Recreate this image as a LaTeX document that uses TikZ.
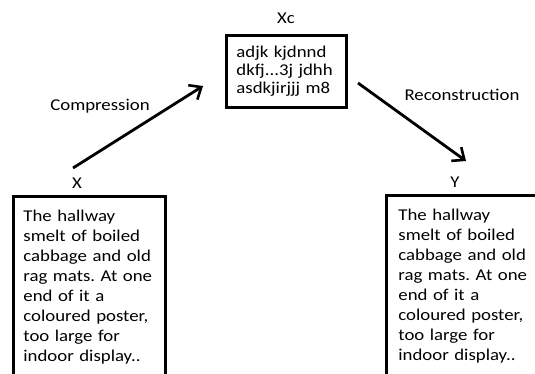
\documentclass[tikz,border=0pt]{standalone}
\usepackage{fontspec}
\setmainfont{Carlito}[FakeStretch=1.14]
\usetikzlibrary{arrows.meta}
\frenchspacing

\tikzset{
  textbox/.style={draw, line width=2.8pt, anchor=north west, align=left,
    inner xsep=10pt, inner ysep=14pt, font=\fontsize{16.5}{20}\selectfont},
  lbl/.style={font=\fontsize{16.5}{18}\selectfont},
  arr/.style={line width=2.8pt, -{Straight Barb[length=10pt,width=17pt,line width=2.6pt]}}
}

\begin{document}
\begin{tikzpicture}[x=1pt,y=-1pt]
\useasboundingbox (0,0) rectangle (535,373);
% the compressed text in the middle
\node[textbox, font=\fontsize{16.5}{18}\selectfont, inner ysep=11pt, text width=100pt] (xcbox) at (225,34)
  {adjk kjdnnd\\dkfj...3j jdhh\\asdkjirjjj m8};
\node[lbl] (xclab) at (286,18) {Xc};
% input and output
\node[textbox, text width=132pt] (xbox) at (12,195)
  {The hallway\\smelt of boiled\\cabbage and old\\rag mats. At one\\end of it a\\coloured poster,\\too large for\\indoor display..};
\node[lbl] (xlab) at (77,183) {X};
\node[textbox, inner xsep=12pt, text width=150pt] (ybox) at (385,194)
  {The hallway\\smelt of boiled\\cabbage and old\\rag mats. At one\\end of it a\\coloured poster,\\too large for\\indoor display..};
\node[lbl] (ylab) at (455,182) {Y};
% arrows
\coordinate (cmpA) at (73,168);
\coordinate (cmpB) at (203,86);
\coordinate (recA) at (358,83);
\coordinate (recB) at (466,161);
\draw[arr] (cmpA) -- (cmpB);
\draw[arr] (recA) -- (recB);
\node[lbl] (cmplab) at (100,106) {Compression};
\node[lbl] (reclab) at (462,95) {Reconstruction};
\end{tikzpicture}
\end{document}
